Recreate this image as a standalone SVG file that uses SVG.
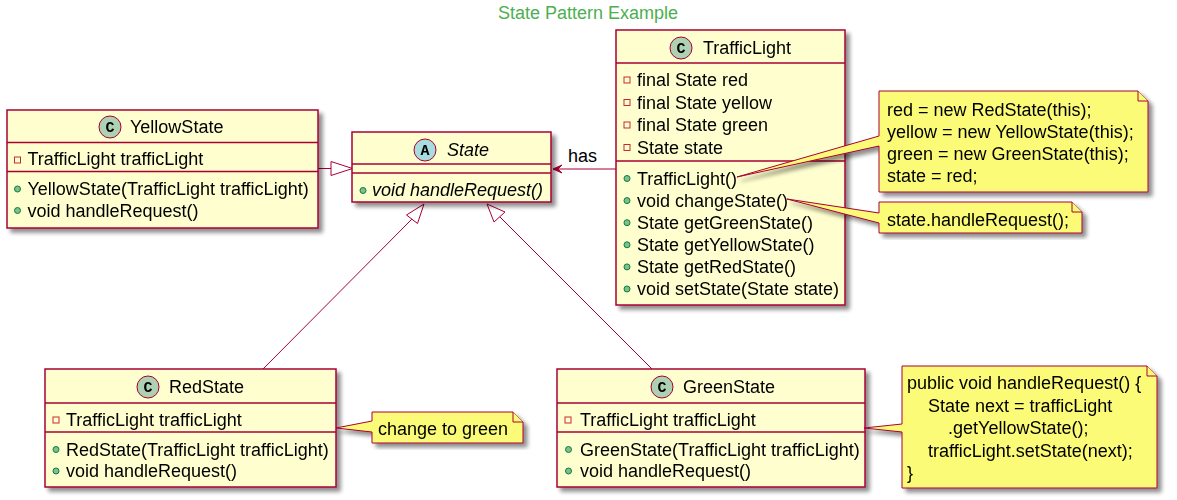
<svg xmlns="http://www.w3.org/2000/svg" width="1177" height="500" viewBox="0 0 1177 500">
<defs>
<filter id="sh" x="-10%" y="-10%" width="130%" height="130%">
<feGaussianBlur in="SourceAlpha" stdDeviation="2"/>
<feOffset dx="4" dy="4" result="b"/>
<feComponentTransfer><feFuncA type="linear" slope="0.45"/></feComponentTransfer>
<feMerge><feMergeNode/><feMergeNode in="SourceGraphic"/></feMerge>
</filter>
</defs>
<style>
text{font-family:"Liberation Sans",Arial,sans-serif;font-size:18px;fill:#000}
.title{fill:#4CAF50;text-anchor:middle}
.box{fill:#FEFECE;stroke:#A80036;stroke-width:1.5}
.sep{stroke:#A80036;stroke-width:1.5}
.cc{fill:#ADD1B2;stroke:#A80036;stroke-width:1}
.ca{fill:#A9DCDF;stroke:#A80036;stroke-width:1}
.letter{font-family:"Liberation Mono",monospace;font-weight:bold;font-size:15px;text-anchor:middle}
.priv{fill:none;stroke:#C82930;stroke-width:1}
.pub{fill:#84BE84;stroke:#038048;stroke-width:1}
.note{fill:#FBFB77;stroke:#A80036;stroke-width:1}
.edge{fill:none;stroke:#A80036;stroke-width:1}
.tri{fill:#fff;stroke:#A80036;stroke-width:1}
.ital{font-style:italic}
</style>
<rect width="1177" height="500" fill="#fff"/>
<text class="title" x="588" y="19">State Pattern Example</text>

<g id="connectors">
<line class="edge" x1="318" y1="168.5" x2="331" y2="168.5"/>
<polygon class="tri" points="352.5,168.5 331,161.5 331,175.5"/>
<line class="edge" x1="263" y1="369" x2="412" y2="219"/>
<polygon class="tri" points="424,204 406.5,215 417.5,223.5"/>
<line class="edge" x1="652" y1="369" x2="500" y2="217"/>
<polygon class="tri" points="487,204 494,222 505,212"/>
<line class="edge" x1="616" y1="169" x2="554" y2="169"/>
<polygon points="553,169 562,165 558,169 562,173" fill="#A80036" stroke="#A80036" stroke-width="1"/>
<text x="568" y="162">has</text>
</g>

<g id="YellowState" filter="url(#sh)">
<rect class="box" x="7" y="110" width="311" height="118"/>
<line class="sep" x1="7" y1="142.5" x2="318" y2="142.5"/>
<line class="sep" x1="7" y1="171.5" x2="318" y2="171.5"/>
<circle class="cc" cx="110" cy="127" r="11"/>
<text class="letter" x="110" y="132">C</text>
<text x="130" y="133">YellowState</text>
<rect class="priv" x="14.5" y="157" width="6" height="6"/>
<text x="27.5" y="165">TrafficLight trafficLight</text>
<circle class="pub" cx="17.5" cy="189" r="3"/>
<text x="27.5" y="195">YellowState(TrafficLight trafficLight)</text>
<circle class="pub" cx="17.5" cy="210.5" r="3"/>
<text x="27.5" y="216.5">void handleRequest()</text>
</g>

<g id="State" filter="url(#sh)">
<rect class="box" x="352" y="132" width="199" height="70"/>
<line class="sep" x1="352" y1="164" x2="551" y2="164"/>
<line class="sep" x1="352" y1="173" x2="551" y2="173"/>
<circle class="ca" cx="425" cy="150" r="11"/>
<text class="letter" x="425" y="155">A</text>
<text class="ital" x="447" y="155.5">State</text>
<circle class="pub" cx="363" cy="190.5" r="3"/>
<text class="ital" x="372" y="195.5">void handleRequest()</text>
</g>

<g id="TrafficLight" filter="url(#sh)">
<rect class="box" x="616" y="30" width="229" height="275"/>
<line class="sep" x1="616" y1="63" x2="845" y2="63"/>
<line class="sep" x1="616" y1="161" x2="845" y2="161"/>
<circle class="cc" cx="681" cy="48" r="11"/>
<text class="letter" x="681" y="53">C</text>
<text x="703" y="54">TrafficLight</text>
<rect class="priv" x="624" y="77" width="6" height="6"/>
<text x="637" y="86">final State red</text>
<rect class="priv" x="624" y="99.5" width="6" height="6"/>
<text x="637" y="108.5">final State yellow</text>
<rect class="priv" x="624" y="122" width="6" height="6"/>
<text x="637" y="131">final State green</text>
<rect class="priv" x="624" y="144.5" width="6" height="6"/>
<text x="637" y="153.5">State state</text>
<circle class="pub" cx="627" cy="178.5" r="3"/>
<text x="637" y="184.5">TrafficLight()</text>
<circle class="pub" cx="627" cy="200.6" r="3"/>
<text x="637" y="206.6">void changeState()</text>
<circle class="pub" cx="627" cy="222.7" r="3"/>
<text x="637" y="228.7">State getGreenState()</text>
<circle class="pub" cx="627" cy="244.8" r="3"/>
<text x="637" y="250.8">State getYellowState()</text>
<circle class="pub" cx="627" cy="266.9" r="3"/>
<text x="637" y="272.9">State getRedState()</text>
<circle class="pub" cx="627" cy="289" r="3"/>
<text x="637" y="295">void setState(State state)</text>
</g>

<g id="RedState" filter="url(#sh)">
<rect class="box" x="45" y="369" width="291" height="118"/>
<line class="sep" x1="45" y1="403" x2="336" y2="403"/>
<line class="sep" x1="45" y1="432" x2="336" y2="432"/>
<circle class="cc" cx="148" cy="387" r="11"/>
<text class="letter" x="148" y="392">C</text>
<text x="169" y="393">RedState</text>
<rect class="priv" x="53" y="417" width="6" height="6"/>
<text x="66" y="425.5">TrafficLight trafficLight</text>
<circle class="pub" cx="56" cy="449.5" r="3"/>
<text x="66" y="455.5">RedState(TrafficLight trafficLight)</text>
<circle class="pub" cx="56" cy="471" r="3"/>
<text x="66" y="477">void handleRequest()</text>
</g>

<g id="GreenState" filter="url(#sh)">
<rect class="box" x="557" y="369" width="308" height="118"/>
<line class="sep" x1="557" y1="403" x2="865" y2="403"/>
<line class="sep" x1="557" y1="432" x2="865" y2="432"/>
<circle class="cc" cx="662" cy="387" r="11"/>
<text class="letter" x="662" y="392">C</text>
<text x="683" y="393">GreenState</text>
<rect class="priv" x="565" y="417" width="6" height="6"/>
<text x="580" y="425.5">TrafficLight trafficLight</text>
<circle class="pub" cx="568.5" cy="449.5" r="3"/>
<text x="580" y="455.5">GreenState(TrafficLight trafficLight)</text>
<circle class="pub" cx="568.5" cy="471" r="3"/>
<text x="580" y="477">void handleRequest()</text>
</g>

<g id="note_ctor" filter="url(#sh)">
<path class="note" d="M879,91 L1138,91 L1148,101 L1148,192 L879,192 L879,146 L737,177 L879,136 Z"/>
<path class="note" d="M1138,91 L1138,101 L1148,101"/>
<text x="887" y="116">red = new RedState(this);</text>
<text x="887" y="138">yellow = new YellowState(this);</text>
<text x="887" y="160">green = new GreenState(this);</text>
<text x="887" y="182">state = red;</text>
</g>

<g id="note_change" filter="url(#sh)">
<path class="note" d="M879,202 L1072,202 L1082,212 L1082,233 L879,233 L879,223 L787,199 L879,213 Z"/>
<path class="note" d="M1072,202 L1072,212 L1082,212"/>
<text x="887" y="225.5">state.handleRequest();</text>
</g>

<g id="note_red" filter="url(#sh)">
<path class="note" d="M372,412 L513,412 L523,422 L523,443 L372,443 L372,432 L336,428 L372,421 Z"/>
<path class="note" d="M513,412 L513,422 L523,422"/>
<text x="378" y="434.5">change to green</text>
</g>

<g id="note_green" filter="url(#sh)">
<path class="note" d="M902,366 L1147,366 L1157,376 L1157,488 L902,488 L902,432 L864,428 L902,424 Z"/>
<path class="note" d="M1147,366 L1147,376 L1157,376"/>
<text x="907" y="388.5">public void handleRequest() {</text>
<text x="928" y="411.5">State next = trafficLight</text>
<text x="948" y="434">.getYellowState();</text>
<text x="928" y="456.5">trafficLight.setState(next);</text>
<text x="907" y="479">}</text>
</g>
</svg>
